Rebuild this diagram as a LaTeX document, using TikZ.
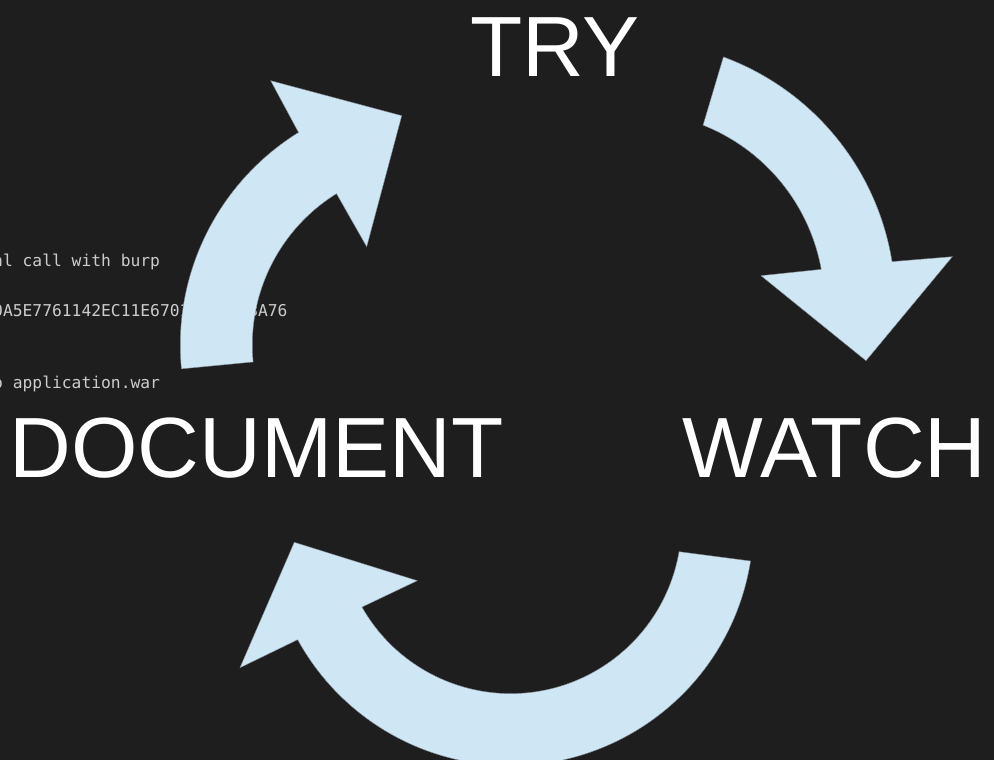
\documentclass[tikz,border=0pt]{standalone}
\usepackage{fontspec}
\setmainfont{Liberation Sans}
\newfontfamily\termfont{DejaVu Sans Mono}
\usetikzlibrary{calc}
\definecolor{canvas}{RGB}{30,30,30}
\definecolor{cyclefill}{RGB}{207,230,244}
\definecolor{cycleedge}{RGB}{130,140,148}
\definecolor{termgray}{RGB}{204,204,204}
\tikzset{
  cyclearrow/.style={fill=cyclefill, draw=cycleedge, line width=0.4pt, line join=miter},
  bigword/.style={text=white, inner sep=0pt, anchor=base west,
    font=\fontsize{85.5}{100}\selectfont},
  termline/.style={text=termgray, inner sep=0pt, anchor=base west,
    font=\termfont\fontsize{16.3}{20}\selectfont},
}
\begin{document}
\begin{tikzpicture}[x=1pt,y=1pt]
\useasboundingbox (0,0) rectangle (994,760);
\clip (0,0) rectangle (994,760);
\fill[canvas] (0,0) rectangle (994,760);

% terminal output behind the cycle
\node[termline] (term1)  at (-7,493)    {nl call with burp};
\node[termline] (term2a) at (-7,443.3)  {0A5E7761142EC11E6701};
\node[termline] (term2b) at (248.1,443.3) {3A76};
\node[termline] (term3)  at (-7,371.7)  {o application.war};

% centres of the three curved arrows
\coordinate (c1) at (430.3,415.1);
\coordinate (c2) at (632.4,456.3);
\coordinate (c3) at (510.6,237.4);

% DOCUMENT -> TRY
\filldraw[cyclearrow]
  ($(c1)+(185.5:250pt)$) arc[start angle=185.5, end angle=121.8, radius=250pt]
  -- (270.7,679.3) -- (401.7,644.3) -- (366.7,513.3)
  -- ($(c1)+(121.8:178pt)$) arc[start angle=121.8, end angle=185.5, radius=178pt]
  -- cycle;

% TRY -> WATCH
\filldraw[cyclearrow]
  ($(c2)+(69.75:263pt)$) arc[start angle=69.75, end angle=9.2, radius=263pt]
  -- (952.3,503.3) -- (866,399.3) -- (761,484.3)
  -- ($(c2)+(10.3:192pt)$) arc[start angle=10.3, end angle=68.4, radius=192pt]
  -- cycle;

% WATCH -> DOCUMENT
\filldraw[cyclearrow]
  ($(c3)+(-9.1:243pt)$) arc[start angle=-9.1, end angle=-151.2, radius=243pt]
  -- (240,92.3) -- (294.3,217.7) -- (417.3,179.3)
  -- ($(c3)+(-150.4:171pt)$) arc[start angle=-150.4, end angle=-9.8, radius=171pt]
  -- cycle;

% stage labels
\node[bigword] (try)      at (470.3,683.3) {TRY};
\node[bigword] (document) at (9.2,282.3)   {DOCUMENT};
\node[bigword] (watch)    at (682.5,282.3) {WATCH};
\end{tikzpicture}
\end{document}
